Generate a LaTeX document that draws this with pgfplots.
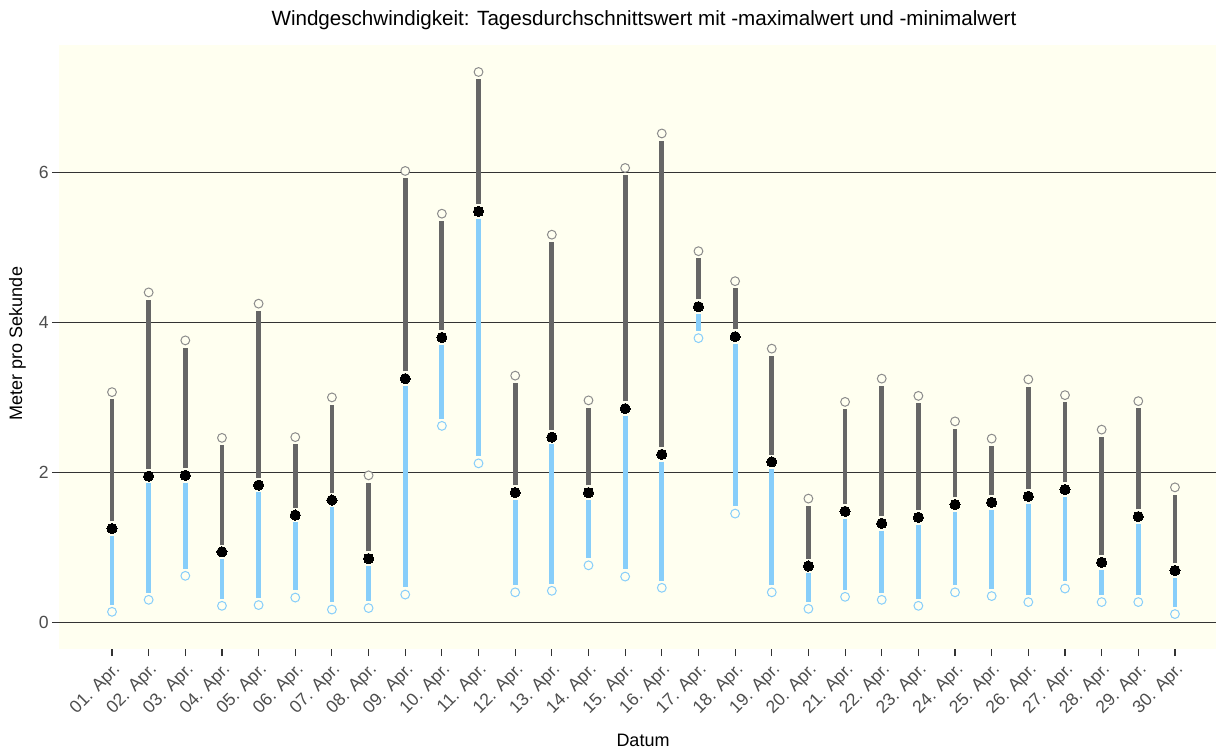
\documentclass[border=0pt]{standalone}
\usepackage{fontspec}
\setmainfont{Liberation Sans}
\usepackage{pgfplots}
\usepackage{pgfplotstable}
\pgfplotsset{compat=1.18}
\definecolor{bgc}{HTML}{FFFFF0}
\definecolor{barGray}{HTML}{666666}
\definecolor{barBlue}{HTML}{87CEFA}
\definecolor{maxEdge}{HTML}{8C8C8C}
\definecolor{tickc}{HTML}{4D4D4D}
\definecolor{gridc}{HTML}{333333}

\pgfplotstableread{
d  min   mean  max
1  0.14  1.25  3.07
2  0.30  1.95  4.40
3  0.62  1.96  3.76
4  0.22  0.94  2.46
5  0.23  1.83  4.25
6  0.33  1.43  2.47
7  0.17  1.63  3.00
8  0.19  0.85  1.96
9  0.37  3.25  6.02
10 2.62  3.80  5.45
11 2.12  5.48  7.34
12 0.40  1.73  3.29
13 0.42  2.47  5.17
14 0.76  1.73  2.96
15 0.61  2.85  6.06
16 0.46  2.24  6.52
17 3.79  4.21  4.95
18 1.45  3.81  4.55
19 0.40  2.14  3.65
20 0.18  0.75  1.65
21 0.34  1.48  2.94
22 0.30  1.32  3.25
23 0.22  1.40  3.02
24 0.40  1.57  2.68
25 0.35  1.60  2.45
26 0.27  1.68  3.24
27 0.45  1.77  3.03
28 0.27  0.80  2.57
29 0.27  1.41  2.95
30 0.11  0.69  1.80
}\data

\begin{document}
\begin{tikzpicture}
\begin{axis}[
  name=ax,
  scale only axis,
  width=578.5bp, height=302bp,
  xmin=-0.446, xmax=31.12,
  ymin=-0.356, ymax=7.70,
  axis background/.style={fill=bgc},
  axis x line*=bottom, axis y line*=left,
  axis line style={draw=none},
  ytick={0,2,4,6},
  xtick={1,...,30},
  xticklabels={01. Apr.,02. Apr.,03. Apr.,04. Apr.,05. Apr.,06. Apr.,07. Apr.,08. Apr.,09. Apr.,10. Apr.,11. Apr.,12. Apr.,13. Apr.,14. Apr.,15. Apr.,16. Apr.,17. Apr.,18. Apr.,19. Apr.,20. Apr.,21. Apr.,22. Apr.,23. Apr.,24. Apr.,25. Apr.,26. Apr.,27. Apr.,28. Apr.,29. Apr.,30. Apr.},
  tick align=outside,
  major tick length=3.5bp,
  tick style={draw=gridc, line width=0.55bp},
  ymajorgrids,
  major grid style={draw=gridc, line width=0.55bp},
  /pgf/number format/assume math mode=true,
  ticklabel style={font=\fontsize{8.8bp}{10.5bp}\selectfont, text=tickc},
  xticklabel style={rotate=45, anchor=north east, inner sep=1.8bp},
  yticklabel style={inner sep=1.5bp},
]
% bars max-mean (gray)
\addplot[draw=none, mark=none, forget plot,
  error bars/.cd, y dir=plus, y explicit, error mark=none,
  error bar style={draw=barGray, line width=2.4bp, shorten <=3.6bp, shorten >=3.6bp}]
  table[x=d, y=mean, y error expr=\thisrow{max}-\thisrow{mean}] {\data};
% bars mean-min (blue)
\addplot[draw=none, mark=none, forget plot,
  error bars/.cd, y dir=minus, y explicit, error mark=none,
  error bar style={draw=barBlue, line width=2.4bp, shorten <=3.6bp, shorten >=3.6bp}]
  table[x=d, y=mean, y error expr=\thisrow{mean}-\thisrow{min}] {\data};
% markers
\addplot[only marks, mark=*, mark size=2.2bp, mark options={fill=bgc, draw=maxEdge, line width=0.5bp}]
  table[x=d, y=max] {\data};
\addplot[only marks, mark=*, mark size=2.2bp, mark options={fill=bgc, draw=barBlue, line width=0.5bp}]
  table[x=d, y=min] {\data};
\addplot[only marks, mark=*, mark size=2.55bp, mark options={fill=black, draw=black, line width=0bp}]
  table[x=d, y=mean] {\data};
\end{axis}
\node[font=\fontsize{10.3bp}{12bp}\selectfont, anchor=center] at (292.5bp,12.5bp+302bp) {Windgeschwindigkeit: Tagesdurchschnittswert mit -maximalwert und -minimalwert};
\node[font=\fontsize{9bp}{11bp}\selectfont, rotate=90, anchor=center] at (-20.75bp,152.75bp) {Meter pro Sekunde};
\node[font=\fontsize{9bp}{11bp}\selectfont, anchor=center] at (292bp,-45.5bp) {Datum};
\pgfresetboundingbox
\path (-29.5bp,-50bp) rectangle (579.5bp,324.5bp);
\end{tikzpicture}
\end{document}
